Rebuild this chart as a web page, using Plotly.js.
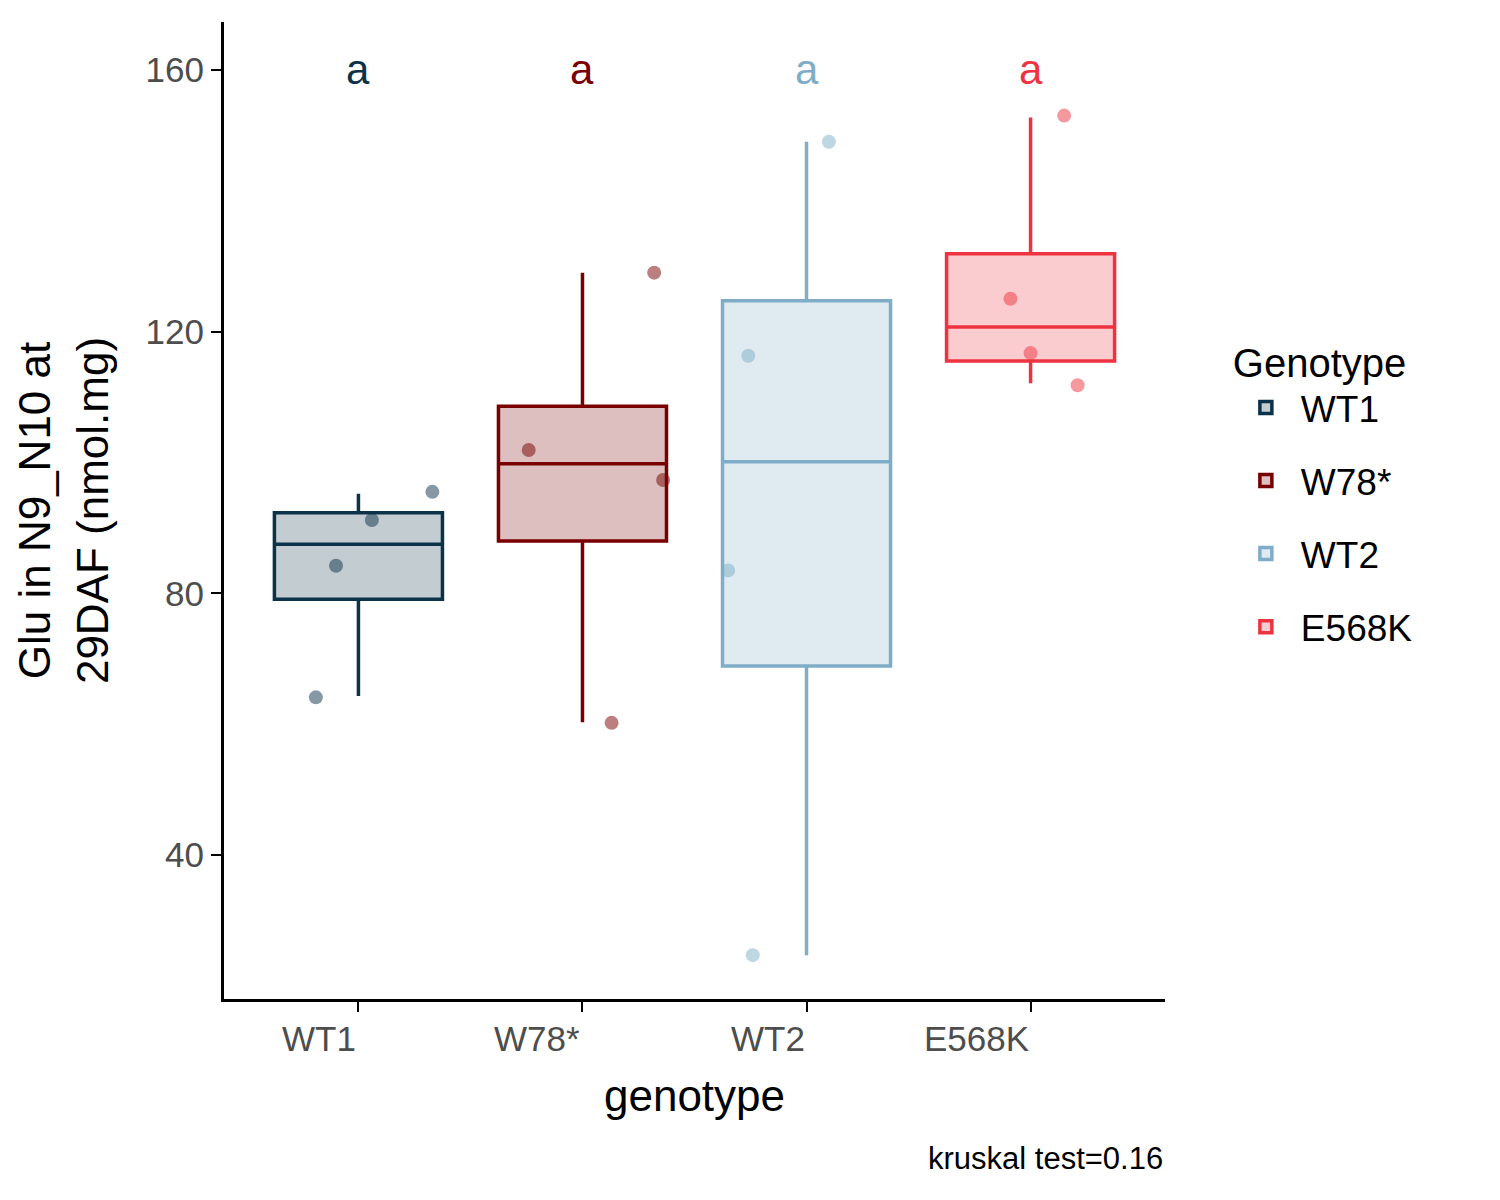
<!DOCTYPE html>
<html>
<head>
<meta charset="utf-8">
<script src="https://cdn.plot.ly/plotly-3.0.1.min.js"></script>
<style>body{margin:0;background:#fff}</style>
</head>
<body>
<div id="chart" style="width:1500px;height:1200px"></div>
<script>
// genotype groups
const genotypes = ["WT1", "W78*", "WT2", "E568K"];
const colors = ["#0B3249", "#780000", "#7FADC8", "#EE3340"];
const fills = ["rgba(11,50,73,0.25)", "rgba(120,0,0,0.25)", "rgba(127,173,200,0.25)", "rgba(238,51,64,0.25)"];

// box stats
const q1 = [79.1, 88.0, 68.9, 115.5];
const med = [87.5, 99.8, 100.1, 120.7];
const q3 = [92.3, 108.6, 124.7, 131.9];
const lowFence = [64.3, 60.3, 24.7, 112.1];
const upFence = [95.2, 129.0, 149.0, 152.7];

// raw points and their jitter offsets
const pts = [
  [95.5, 91.2, 84.2, 64.1],
  [129.0, 101.9, 97.3, 60.2],
  [149.0, 116.3, 83.5, 24.7],
  [153.0, 125.0, 116.7, 111.8]
];
const jitter = [
  [0.33, 0.06, -0.10, -0.19],
  [0.32, -0.24, 0.36, 0.13],
  [0.10, -0.26, -0.35, -0.24],
  [0.15, -0.09, 0.00, 0.21]
];
const letters = ["a", "a", "a", "a"];

let traces = [];
genotypes.forEach((g, i) => {
  traces.push({
    type: "box", name: g, x: [i], q1: [q1[i]], median: [med[i]], q3: [q3[i]],
    lowerfence: [lowFence[i]], upperfence: [upFence[i]], legendgroup: g,
    width: 0.75, line: {color: colors[i], width: 3.5}, fillcolor: fills[i],
    boxpoints: false, whiskerwidth: 0, hoverinfo: "skip"
  });
});
genotypes.forEach((g, i) => {
  traces.push({
    type: "scatter", mode: "markers", showlegend: false, legendgroup: g,
    x: jitter[i].map(j => i + j), y: pts[i],
    marker: {color: colors[i], size: 14, opacity: 0.5}
  });
});

const fam = "Liberation Sans, Arial";
const tickFont = {family: fam, size: 35, color: "#4d4d4d"};
let ann = genotypes.map((g, i) => ({
  x: i, y: 0, xref: "x", yref: "paper", yshift: -18, text: g, showarrow: false,
  xanchor: "right", yanchor: "top", font: tickFont
}));
letters.forEach((l, i) => ann.push({
  x: i, y: 160, xref: "x", yref: "y", text: l, showarrow: false,
  font: {family: fam, size: 42, color: colors[i]}
}));
ann.push({x: 1, y: -(1158 - 999) / 977, xref: "paper", yref: "paper", text: "kruskal test=0.16", showarrow: false,
  xanchor: "right", yanchor: "middle", font: {family: fam, size: 31, color: "#000"}});

const layout = {
  width: 1500, height: 1200, paper_bgcolor: "#fff", plot_bgcolor: "#fff",
  margin: {l: 224, r: 335, t: 22, b: 201},
  xaxis: {
    range: [-0.6, 3.6], tickvals: [0, 1, 2, 3], showticklabels: false,
    ticks: "outside", ticklen: 10, tickwidth: 2, tickcolor: "#000",
    showline: true, linecolor: "#000", linewidth: 3, showgrid: false, zeroline: false,
    title: {text: "genotype", font: {family: fam, size: 44, color: "#000"}, standoff: 70}
  },
  yaxis: {
    range: [18, 167.3], tickvals: [40, 80, 120, 160],
    ticks: "outside", ticklen: 10, tickwidth: 2, tickcolor: "#000", tickfont: tickFont,
    showline: true, linecolor: "#000", linewidth: 3, showgrid: false, zeroline: false,
    title: {text: "Glu in N9_N10 at<br>29DAF (nmol.mg)", font: {family: fam, size: 44, color: "#000"}, standoff: 24}
  },
  legend: {
    x: 1.07, y: 0.69, xanchor: "left", yanchor: "top",
    title: {text: "Genotype", font: {family: fam, size: 40, color: "#000"}},
    font: {family: fam, size: 37, color: "#000"}, tracegroupgap: 22, itemwidth: 60
  },
  annotations: ann
};
Plotly.newPlot("chart", traces, layout, {displayModeBar: false});
</script>
</body>
</html>
